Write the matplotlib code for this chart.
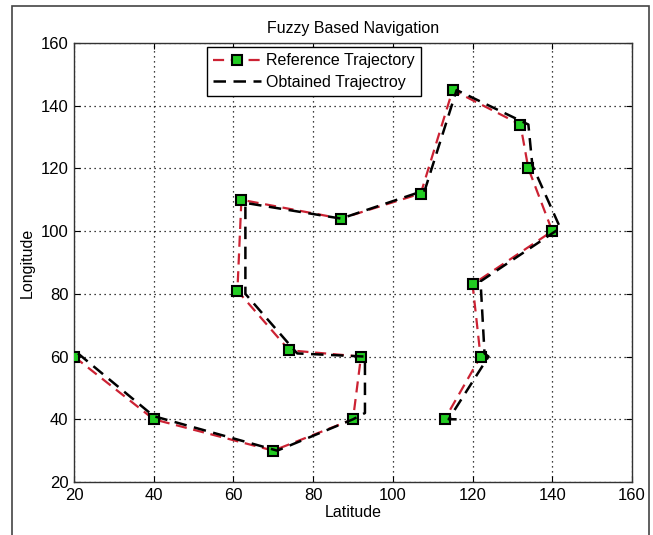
import matplotlib.pyplot as plt
from matplotlib.patches import Rectangle

plt.rcParams['font.family'] = ['Liberation Sans', 'DejaVu Sans']

# reference trajectory (latitude, longitude)
ref_lat = [20, 40, 70, 90, 92, 74, 61, 62, 87, 107, 115, 132, 134, 140, 120, 122, 113]
ref_lon = [60, 40, 30, 40, 60, 62, 81, 110, 104, 112, 145, 134, 120, 100, 83, 60, 40]

# obtained trajectory
obt_lat = [21, 40, 71, 90, 93, 93, 76, 63, 63, 87, 108, 116, 134, 135, 142, 122, 123, 124, 114, 116]
obt_lon = [61, 41, 30, 40, 42, 60, 61, 80, 109, 104, 113, 145, 134, 121, 101, 84, 61, 60, 40, 40]

xticks = [20, 40, 60, 80, 100, 120, 140, 160]
yticks = [20, 40, 60, 80, 100, 120, 140, 160]

fig = plt.figure(figsize=(6.53, 5.35), dpi=100)
ax = fig.add_axes([74/653, 1-482/535, (632-74)/653, (482-43)/535])

# outer frame of the screenshot
fig.patches.append(Rectangle((12/653, -0.05), (649-12)/653, 1.05 - 6/535,
                             transform=fig.transFigure, fill=False,
                             edgecolor='#444444', lw=1.2))

ax.plot(ref_lat, ref_lon, '--', color='#cc2233', lw=1.6, dashes=(5, 3),
        marker='s', markersize=7.5, markerfacecolor='#22cc22',
        markeredgecolor='black', markeredgewidth=1.5, label='Reference Trajectory', zorder=3)
ax.plot(obt_lat, obt_lon, '--', color='black', lw=1.8, dashes=(5, 3),
        label='Obtained Trajectroy', zorder=4)

ax.set_xlim(20, 160)
ax.set_ylim(20, 160)
ax.set_xticks(xticks)
ax.set_yticks(yticks)
ax.tick_params(direction='in', top=True, right=True, labelsize=12, length=4, pad=4)
ax.grid(True, linestyle=(0, (1, 3)), color='black', lw=0.9)
for s in ax.spines.values():
    s.set_linewidth(1.0)
    s.set_color('#333333')

ax.set_xlabel('Latitude', fontsize=11.5, labelpad=2)
ax.set_ylabel('Longitude', fontsize=11.5, labelpad=4)
ax.set_title('Fuzzy Based Navigation', fontsize=11.5, pad=7)

leg = ax.legend(loc='upper left', bbox_to_anchor=(207/653, 1-47/535),
                bbox_transform=fig.transFigure, borderaxespad=0, fontsize=11.5,
                fancybox=False, framealpha=1, edgecolor='black',
                handlelength=3, handletextpad=0.3, borderpad=0.4, labelspacing=0.4)
leg.get_frame().set_linewidth(1.0)

fig.savefig('out.png', dpi=100)
